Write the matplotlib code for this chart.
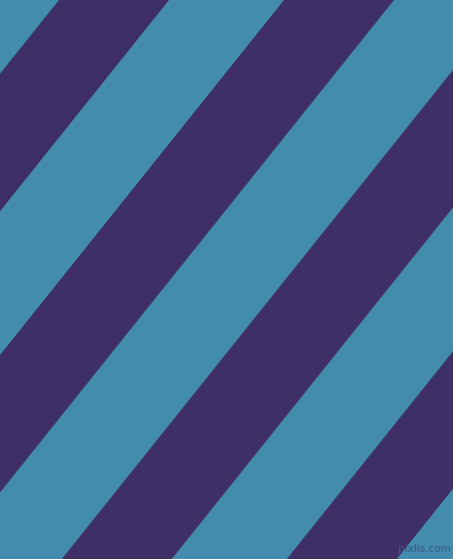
import numpy as np
import matplotlib
matplotlib.use("Agg")
import matplotlib.pyplot as plt

# Stripe data: intercepts along the top edge (x at y=0) of the dark stripes
stripe_start = [59, 284, 509, 734]
stripe_end = [169, 394, 619, 844]
shear = 0.8  # horizontal shift per pixel of depth

W, H = 453, 559
blue = "#438cad"
purple = "#3e3066"

fig = plt.figure(figsize=(W / 100, H / 100), dpi=100)
ax = fig.add_axes([0, 0, 1, 1])
ax.set_xlim(0, W)
ax.set_ylim(H, 0)
ax.axis("off")
fig.patch.set_facecolor(blue)
ax.set_facecolor(blue)

y = np.array([0, H])
for s, e in zip(stripe_start, stripe_end):
    ax.fill_betweenx(y, s - shear * y, e - shear * y, color=purple, linewidth=0, antialiased=True)

ax.text(451, 554, "pixlis.com", ha="right", va="bottom", fontsize=7.5,
        color="#3b5687", family="DejaVu Sans")

fig.savefig("out.png", dpi=100, facecolor=blue)
